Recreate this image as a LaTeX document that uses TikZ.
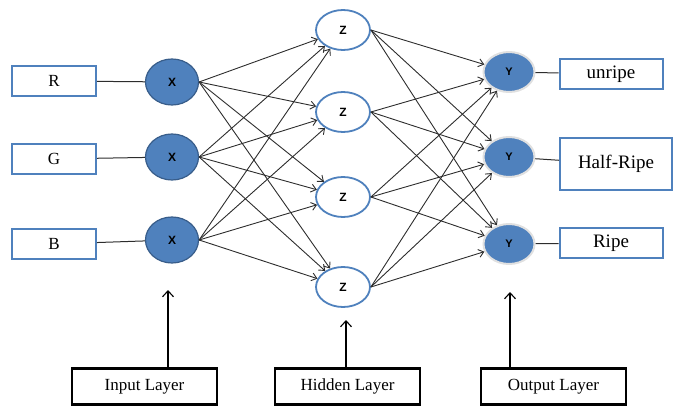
\documentclass[tikz,border=0pt]{standalone}
\usepackage{fontspec}
\setmainfont{Liberation Serif}
\setsansfont{Liberation Sans}
\usetikzlibrary{arrows.meta,positioning,shapes.geometric}
\definecolor{netblue}{RGB}{79,129,189}
\definecolor{netdark}{RGB}{56,93,138}
\definecolor{netline}{RGB}{45,45,45}

\begin{document}
\begin{tikzpicture}[x=1pt, y=-1pt,
  inbox/.style={draw=netblue, line width=2pt, fill=white, minimum width=84pt,
    minimum height=30pt, inner sep=0pt, font=\fontsize{17}{19}\selectfont},
  outbox/.style={inbox, minimum width=103pt, font=\fontsize{19}{21}\selectfont},
  layer/.style={draw=black, line width=2.2pt, minimum width=145pt,
    minimum height=36pt, inner sep=0pt, font=\fontsize{17}{19}\selectfont},
  xnode/.style={ellipse, draw=netdark, line width=1.2pt, fill=netblue,
    minimum width=53pt, minimum height=46pt, inner sep=0pt,
    font=\sffamily\bfseries\fontsize{12}{14}\selectfont},
  znode/.style={ellipse, draw=netblue, line width=1.8pt, fill=white,
    minimum width=54pt, minimum height=40pt, inner sep=0pt,
    font=\sffamily\bfseries\fontsize{12}{14}\selectfont},
  ynode/.style={ellipse, draw=black!12, line width=2pt, fill=netblue,
    minimum width=51pt, minimum height=40pt, inner sep=0pt,
    font=\sffamily\bfseries\fontsize{11}{13}\selectfont},
  link/.style={netline, line width=1pt},
  arr/.style={netline, line width=0.9pt, -{Straight Barb[length=5pt,width=8pt]}},
  uparr/.style={black, line width=1.1pt, -{Straight Barb[length=6pt,width=11pt]}}]
  \useasboundingbox (0,0) rectangle (674,406);

  % input layer
  \node[inbox] (r) at (54,81) {R};
  \node[inbox] (g) at (54,159) {G};
  \node[inbox] (b) at (54,244) {B};
  \node[xnode] (x1) at (172,82) {X};
  \node[xnode] (x2) at (172,157) {X};
  \node[xnode] (x3) at (172,240) {X};

  % hidden layer
  \node[znode] (z1) at (343,30) {Z};
  \node[znode] (z2) at (343,112) {Z};
  \node[znode] (z3) at (343,197) {Z};
  \node[znode] (z4) at (343,287) {Z};

  % output layer
  \node[ynode] (y1) at (509,72) {Y};
  \node[ynode] (y2) at (509,157) {Y};
  \node[ynode] (y3) at (509,244) {Y};
  \node[outbox] (o1) at (611,74) {unripe};
  \node[outbox, minimum width=112pt, minimum height=52pt] (o2) at (616,164) {Half-Ripe};
  \node[outbox] (o3) at (611,243) {Ripe};

  % layer captions
  \node[layer] (inlayer) at (144.5,386.5) {Input Layer};
  \node[layer] (hidlayer) at (347.5,386.5) {Hidden Layer};
  \node[layer] (outlayer) at (553.5,386.5) {Output Layer};
  \coordinate (intip) at (168,290);
  \coordinate (hidtip) at (346,320);
  \coordinate (outtip) at (510,292);

  \draw[link] (r) -- (x1);
  \draw[link] (g) -- (x2);
  \draw[link] (b) -- (x3);
  \draw[link] (y1) -- (o1);
  \draw[link] (y2) -- (o2);
  \draw[link] (y3) -- (o3);

  \foreach \i in {1,2,3}
    \foreach \j in {1,2,3,4}
      \draw[arr] (x\i.east) -- (z\j);
  \foreach \j in {1,2,3,4}
    \foreach \k in {1,2,3}
      \draw[arr] (z\j.east) -- (y\k);

  \draw[uparr] (inlayer.north -| intip) -- (intip);
  \draw[uparr] (hidlayer.north -| hidtip) -- (hidtip);
  \draw[uparr] (outlayer.north -| outtip) -- (outtip);
\end{tikzpicture}
\end{document}
